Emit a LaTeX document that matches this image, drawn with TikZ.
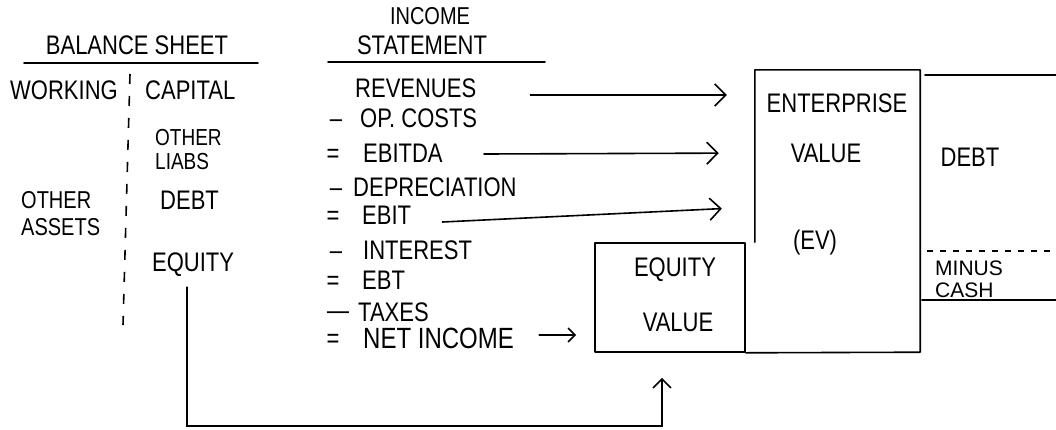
\documentclass[tikz,border=0pt]{standalone}
\usepackage{fontspec}
\setmainfont{Liberation Sans}
\usetikzlibrary{arrows.meta,calc}
\newcommand{\tallt}[1]{\scalebox{1}[1.22]{#1}}
\begin{document}
\begin{tikzpicture}[x=1pt,y=-1pt,
  txt/.style={inner sep=0pt, anchor=west, font=\fontsize{22}{26}\selectfont},
  ctxt/.style={inner sep=0pt, font=\fontsize{22}{26}\selectfont},
  optxt/.style={inner sep=0pt, font=\fontsize{22}{26}\selectfont, text height=19pt, text depth=0pt},
  smalltxt/.style={inner sep=0pt, anchor=west, font=\fontsize{19}{24}\selectfont},
  stroke/.style={line width=1.6pt, line cap=round},
  arr/.style={stroke, -{Straight Barb[length=11pt,width=22pt]}},
  smallarr/.style={stroke, -{Straight Barb[length=7pt,width=14pt]}},
  boxline/.style={line width=1.6pt, line cap=round, line join=round},
  dashsep/.style={line width=1.6pt, dash pattern=on 10pt off 12pt},
  dotsep/.style={line width=1.6pt, dash pattern=on 6pt off 7pt}
]
\useasboundingbox (0,0) rectangle (1056,429);

% ---------- Balance sheet ----------
\node[ctxt] (bstitle) at (137,45) {\tallt{BALANCE SHEET}};
\draw[stroke] (24,63) -- (258,63);
\node[txt] (working) at (10,90) {\tallt{WORKING}};
\node[txt] (capital) at (145,90) {\tallt{CAPITAL}};
\node[smalltxt] (otherl1) at (155,138) {\tallt{OTHER}};
\node[smalltxt] (otherl2) at (155,162) {\tallt{LIABS}};
\node[txt] (debtbs) at (160,200) {\tallt{DEBT}};
\node[smalltxt, font=\fontsize{20}{24}\selectfont] (othera1) at (21,200) {\tallt{OTHER}};
\node[smalltxt, font=\fontsize{20}{24}\selectfont] (othera2) at (21,227) {\tallt{ASSETS}};
\node[txt] (equitybs) at (152,265) {\tallt{EQUITY}};
\draw[dashsep] (130,74) -- (123,325);

% ---------- Income statement ----------
\node[ctxt, font=\fontsize{20}{24}\selectfont] (inc) at (430,16) {\tallt{INCOME}};
\node[ctxt] (stmt) at (422,45) {\tallt{STATEMENT}};
\draw[stroke] (328,62) -- (545,62);

\node[txt] (rev) at (355,88) {\tallt{REVENUES}};
\node[optxt] (op1) at (336,118) {\tallt{--}};
\node[txt] (opc) at (360,118) {\tallt{OP. COSTS}};
\node[optxt] (op2) at (333,153) {\tallt{=}};
\node[txt] (ebitda) at (363,153) {\tallt{EBITDA}};
\node[optxt] (op3) at (336,187) {\tallt{--}};
\node[txt] (dep) at (353,187) {\tallt{DEPRECIATION}};
\node[optxt] (op4) at (333,215) {\tallt{=}};
\node[txt] (ebit) at (362,215) {\tallt{EBIT}};
\node[optxt] (op5) at (336,250) {\tallt{--}};
\node[txt] (intr) at (363,250) {\tallt{INTEREST}};
\node[optxt] (op6) at (333,280) {\tallt{=}};
\node[txt] (ebt) at (362,280) {\tallt{EBT}};
\node[optxt] (op7) at (338,310) {\tallt{---}};
\node[txt] (tax) at (358,312) {\tallt{TAXES}};
\node[optxt] (op8) at (333,338) {\tallt{=}};
\node[txt, font=\fontsize{24}{28}\selectfont] (ni) at (363,338) {\tallt{NET INCOME}};

% ---------- Boxes ----------
\node[draw, boxline, minimum width=150pt, minimum height=109pt, inner sep=0pt] (eqbox) at (670,297.5) {};
\node[ctxt] (eqt1) at (675,270) {\tallt{EQUITY}};
\node[ctxt] (eqt2) at (678,322) {\tallt{VALUE}};

\node[minimum width=165pt, minimum height=282pt, inner sep=0pt] (ev) at (837.5,211) {};
\draw[boxline] (ev.west |- eqbox.north) -- (ev.north west) -- (ev.north east) -- (ev.south east) -- (eqbox.south east);
\node[ctxt] (evt1) at (837,103) {\tallt{ENTERPRISE}};
\node[ctxt] (evt2) at (826,153) {\tallt{VALUE}};
\node[ctxt] (evt3) at (815,243) {\tallt{(EV)}};

\node[ctxt] (debt) at (970,157) {\tallt{DEBT}};
\node[smalltxt, font=\fontsize{21}{24}\selectfont] (minus1) at (935,268) {MINUS};
\node[smalltxt, font=\fontsize{21}{24}\selectfont] (minus2) at (935,290) {CASH};
\draw[boxline] (925,75) -- (1056,75);
\draw[boxline] (922,300) -- (1056,300);
\draw[dotsep] (927,251) -- (1056,251);

% ---------- Connectors ----------
\draw[arr, shorten >=28pt] ($(rev.east)+(54pt,-7pt)$) -- ($(rev.east -| ev.west)+(0pt,-7pt)$);
\draw[arr, shorten >=36pt] ($(ebitda.east)+(41pt,-1pt)$) -- ($(ebitda.east -| ev.west)+(0pt,0pt)$);
\draw[arr, shorten >=33pt] ($(ebit.east)+(31pt,-7pt)$) -- ($(ebit.east -| ev.west)+(0pt,8pt)$);
\draw[smallarr] ($(eqbox.west |- ni.east)+(-55pt,3pt)$) -- ($(eqbox.west |- ni.east)+(-18pt,3pt)$);
\draw[stroke, -{Straight Barb[length=9pt,width=18pt]}]
  ($(equitybs.south)+(-6pt,-10pt)$) |- ($(eqbox.south)+(-8pt,-73pt)$) -- ($(eqbox.south)+(-8pt,-25pt)$);
\end{tikzpicture}
\end{document}
